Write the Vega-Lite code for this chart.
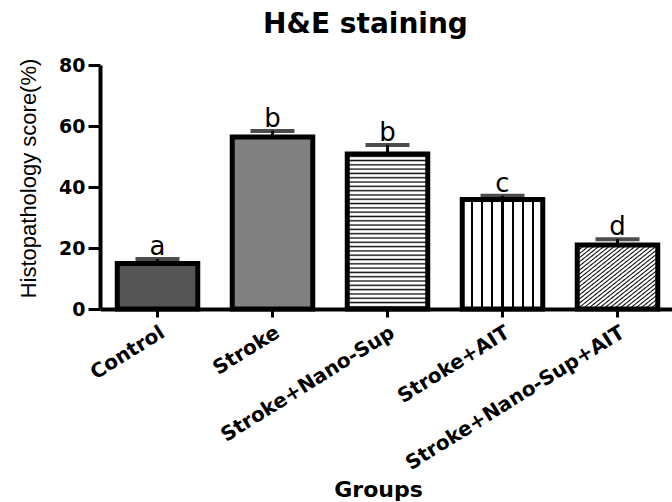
{
  "$schema": "https://vega.github.io/schema/vega-lite/v6.json",
  "width": 575,
  "height": 244,
  "autosize": "none",
  "padding": {"left": 100, "top": 65, "right": 0, "bottom": 193},
  "background": "white",
  "title": {"text": "H&E staining", "font": "DejaVu Sans", "fontSize": 28, "fontWeight": "bold", "color": "black", "offset": 17, "anchor": "middle", "dx": -22},
  "config": {"view": {"stroke": null}, "axis": {"grid": false, "domainColor": "black", "tickColor": "black", "labelColor": "black", "titleColor": "black"}},
  "data": {"values": [
    {"group": "Control", "mean": 14.9, "sem": 1.5, "letter": "a"},
    {"group": "Stroke", "mean": 56.4, "sem": 2.0, "letter": "b"},
    {"group": "Stroke+Nano-Sup", "mean": 50.8, "sem": 3.0, "letter": "b"},
    {"group": "Stroke+AIT", "mean": 35.9, "sem": 1.2, "letter": "c"},
    {"group": "Stroke+Nano-Sup+AIT", "mean": 21.0, "sem": 1.9, "letter": "d"}
  ]},
  "transform": [{"calculate": "datum.mean + datum.sem", "as": "hi"}],
  "encoding": {
    "x": {"field": "group", "type": "nominal", "sort": null,
      "scale": {"paddingInner": 0.3, "paddingOuter": 0.15},
      "axis": {"title": "Groups", "titleFont": "DejaVu Sans", "titleFontSize": 22, "titleFontWeight": "bold", "titleY": 187, "titleX": 278, "titleBaseline": "alphabetic",
        "labelAngle": -32, "labelFont": "DejaVu Sans", "labelFontSize": 20, "labelFontWeight": "bold", "labelPadding": 5, "labelLimit": 0,
        "domainWidth": 4, "tickWidth": 3, "tickSize": 8}}
  },
  "layer": [
    {"mark": {"type": "bar", "stroke": "black", "strokeWidth": 5},
     "encoding": {
       "y": {"field": "mean", "type": "quantitative", "scale": {"domain": [0, 80]},
         "axis": {"title": "Histopathology score(%)", "titleFont": "Liberation Sans", "titleFontSize": 22, "titleFontWeight": "normal", "titleX": -72, "titleY": 113, "titleAlign": "center", "titleBaseline": "middle",
           "values": [0, 20, 40, 60, 80], "labelFont": "DejaVu Sans", "labelFontSize": 19, "labelFontWeight": "bold", "labelPadding": 3,
           "domainWidth": 4, "tickWidth": 3, "tickSize": 12}},
       "fill": {"condition": [
         {"test": "datum.group === 'Control'", "value": "#555555"},
         {"test": "datum.group === 'Stroke'", "value": "#808080"},
         {"test": "datum.group === 'Stroke+Nano-Sup'", "value": {"gradient": "linear", "x1": 0, "y1": 0, "x2": 0, "y2": 1, "stops": [
           {"offset": 0, "color": "#fff"},
           {"offset": 0.0049, "color": "#fff"}, {"offset": 0.0139, "color": "#111"}, {"offset": 0.0229, "color": "#fff"},
           {"offset": 0.0327, "color": "#fff"}, {"offset": 0.0417, "color": "#111"}, {"offset": 0.0507, "color": "#fff"},
           {"offset": 0.0604, "color": "#fff"}, {"offset": 0.0694, "color": "#111"}, {"offset": 0.0784, "color": "#fff"},
           {"offset": 0.0882, "color": "#fff"}, {"offset": 0.0972, "color": "#111"}, {"offset": 0.1062, "color": "#fff"},
           {"offset": 0.116, "color": "#fff"}, {"offset": 0.125, "color": "#111"}, {"offset": 0.134, "color": "#fff"},
           {"offset": 0.1438, "color": "#fff"}, {"offset": 0.1528, "color": "#111"}, {"offset": 0.1618, "color": "#fff"},
           {"offset": 0.1716, "color": "#fff"}, {"offset": 0.1806, "color": "#111"}, {"offset": 0.1896, "color": "#fff"},
           {"offset": 0.1993, "color": "#fff"}, {"offset": 0.2083, "color": "#111"}, {"offset": 0.2173, "color": "#fff"},
           {"offset": 0.2271, "color": "#fff"}, {"offset": 0.2361, "color": "#111"}, {"offset": 0.2451, "color": "#fff"},
           {"offset": 0.2549, "color": "#fff"}, {"offset": 0.2639, "color": "#111"}, {"offset": 0.2729, "color": "#fff"},
           {"offset": 0.2827, "color": "#fff"}, {"offset": 0.2917, "color": "#111"}, {"offset": 0.3007, "color": "#fff"},
           {"offset": 0.3104, "color": "#fff"}, {"offset": 0.3194, "color": "#111"}, {"offset": 0.3284, "color": "#fff"},
           {"offset": 0.3382, "color": "#fff"}, {"offset": 0.3472, "color": "#111"}, {"offset": 0.3562, "color": "#fff"},
           {"offset": 0.366, "color": "#fff"}, {"offset": 0.375, "color": "#111"}, {"offset": 0.384, "color": "#fff"},
           {"offset": 0.3938, "color": "#fff"}, {"offset": 0.4028, "color": "#111"}, {"offset": 0.4118, "color": "#fff"},
           {"offset": 0.4216, "color": "#fff"}, {"offset": 0.4306, "color": "#111"}, {"offset": 0.4396, "color": "#fff"},
           {"offset": 0.4493, "color": "#fff"}, {"offset": 0.4583, "color": "#111"}, {"offset": 0.4673, "color": "#fff"},
           {"offset": 0.4771, "color": "#fff"}, {"offset": 0.4861, "color": "#111"}, {"offset": 0.4951, "color": "#fff"},
           {"offset": 0.5049, "color": "#fff"}, {"offset": 0.5139, "color": "#111"}, {"offset": 0.5229, "color": "#fff"},
           {"offset": 0.5327, "color": "#fff"}, {"offset": 0.5417, "color": "#111"}, {"offset": 0.5507, "color": "#fff"},
           {"offset": 0.5604, "color": "#fff"}, {"offset": 0.5694, "color": "#111"}, {"offset": 0.5784, "color": "#fff"},
           {"offset": 0.5882, "color": "#fff"}, {"offset": 0.5972, "color": "#111"}, {"offset": 0.6062, "color": "#fff"},
           {"offset": 0.616, "color": "#fff"}, {"offset": 0.625, "color": "#111"}, {"offset": 0.634, "color": "#fff"},
           {"offset": 0.6438, "color": "#fff"}, {"offset": 0.6528, "color": "#111"}, {"offset": 0.6618, "color": "#fff"},
           {"offset": 0.6716, "color": "#fff"}, {"offset": 0.6806, "color": "#111"}, {"offset": 0.6896, "color": "#fff"},
           {"offset": 0.6993, "color": "#fff"}, {"offset": 0.7083, "color": "#111"}, {"offset": 0.7173, "color": "#fff"},
           {"offset": 0.7271, "color": "#fff"}, {"offset": 0.7361, "color": "#111"}, {"offset": 0.7451, "color": "#fff"},
           {"offset": 0.7549, "color": "#fff"}, {"offset": 0.7639, "color": "#111"}, {"offset": 0.7729, "color": "#fff"},
           {"offset": 0.7827, "color": "#fff"}, {"offset": 0.7917, "color": "#111"}, {"offset": 0.8007, "color": "#fff"},
           {"offset": 0.8104, "color": "#fff"}, {"offset": 0.8194, "color": "#111"}, {"offset": 0.8284, "color": "#fff"},
           {"offset": 0.8382, "color": "#fff"}, {"offset": 0.8472, "color": "#111"}, {"offset": 0.8562, "color": "#fff"},
           {"offset": 0.866, "color": "#fff"}, {"offset": 0.875, "color": "#111"}, {"offset": 0.884, "color": "#fff"},
           {"offset": 0.8938, "color": "#fff"}, {"offset": 0.9028, "color": "#111"}, {"offset": 0.9118, "color": "#fff"},
           {"offset": 0.9216, "color": "#fff"}, {"offset": 0.9306, "color": "#111"}, {"offset": 0.9396, "color": "#fff"},
           {"offset": 0.9493, "color": "#fff"}, {"offset": 0.9583, "color": "#111"}, {"offset": 0.9673, "color": "#fff"},
           {"offset": 0.9771, "color": "#fff"}, {"offset": 0.9861, "color": "#111"}, {"offset": 0.9951, "color": "#fff"},
           {"offset": 1, "color": "#fff"}]}},
         {"test": "datum.group === 'Stroke+AIT'", "value": {"gradient": "linear", "x1": 0, "y1": 0, "x2": 1, "y2": 0, "stops": [
           {"offset": 0, "color": "#fff"},
           {"offset": 0.112, "color": "#fff"}, {"offset": 0.112, "color": "#000"}, {"offset": 0.138, "color": "#000"}, {"offset": 0.138, "color": "#fff"},
           {"offset": 0.237, "color": "#fff"}, {"offset": 0.237, "color": "#000"}, {"offset": 0.263, "color": "#000"}, {"offset": 0.263, "color": "#fff"},
           {"offset": 0.362, "color": "#fff"}, {"offset": 0.362, "color": "#000"}, {"offset": 0.388, "color": "#000"}, {"offset": 0.388, "color": "#fff"},
           {"offset": 0.487, "color": "#fff"}, {"offset": 0.487, "color": "#000"}, {"offset": 0.513, "color": "#000"}, {"offset": 0.513, "color": "#fff"},
           {"offset": 0.612, "color": "#fff"}, {"offset": 0.612, "color": "#000"}, {"offset": 0.638, "color": "#000"}, {"offset": 0.638, "color": "#fff"},
           {"offset": 0.737, "color": "#fff"}, {"offset": 0.737, "color": "#000"}, {"offset": 0.763, "color": "#000"}, {"offset": 0.763, "color": "#fff"},
           {"offset": 0.862, "color": "#fff"}, {"offset": 0.862, "color": "#000"}, {"offset": 0.888, "color": "#000"}, {"offset": 0.888, "color": "#fff"},
           {"offset": 1, "color": "#fff"}]}},
         {"test": "datum.group === 'Stroke+Nano-Sup+AIT'", "value": {"gradient": "linear", "x1": 0, "y1": 0, "x2": 1, "y2": 1, "stops": [
           {"offset": 0, "color": "#fff"},
           {"offset": 0.0061, "color": "#fff"}, {"offset": 0.0161, "color": "#000"}, {"offset": 0.0261, "color": "#fff"},
           {"offset": 0.0384, "color": "#fff"}, {"offset": 0.0484, "color": "#000"}, {"offset": 0.0584, "color": "#fff"},
           {"offset": 0.0706, "color": "#fff"}, {"offset": 0.0806, "color": "#000"}, {"offset": 0.0906, "color": "#fff"},
           {"offset": 0.1029, "color": "#fff"}, {"offset": 0.1129, "color": "#000"}, {"offset": 0.1229, "color": "#fff"},
           {"offset": 0.1352, "color": "#fff"}, {"offset": 0.1452, "color": "#000"}, {"offset": 0.1552, "color": "#fff"},
           {"offset": 0.1674, "color": "#fff"}, {"offset": 0.1774, "color": "#000"}, {"offset": 0.1874, "color": "#fff"},
           {"offset": 0.1997, "color": "#fff"}, {"offset": 0.2097, "color": "#000"}, {"offset": 0.2197, "color": "#fff"},
           {"offset": 0.2319, "color": "#fff"}, {"offset": 0.2419, "color": "#000"}, {"offset": 0.2519, "color": "#fff"},
           {"offset": 0.2642, "color": "#fff"}, {"offset": 0.2742, "color": "#000"}, {"offset": 0.2842, "color": "#fff"},
           {"offset": 0.2965, "color": "#fff"}, {"offset": 0.3065, "color": "#000"}, {"offset": 0.3165, "color": "#fff"},
           {"offset": 0.3287, "color": "#fff"}, {"offset": 0.3387, "color": "#000"}, {"offset": 0.3487, "color": "#fff"},
           {"offset": 0.361, "color": "#fff"}, {"offset": 0.371, "color": "#000"}, {"offset": 0.381, "color": "#fff"},
           {"offset": 0.3932, "color": "#fff"}, {"offset": 0.4032, "color": "#000"}, {"offset": 0.4132, "color": "#fff"},
           {"offset": 0.4255, "color": "#fff"}, {"offset": 0.4355, "color": "#000"}, {"offset": 0.4455, "color": "#fff"},
           {"offset": 0.4577, "color": "#fff"}, {"offset": 0.4677, "color": "#000"}, {"offset": 0.4777, "color": "#fff"},
           {"offset": 0.49, "color": "#fff"}, {"offset": 0.5, "color": "#000"}, {"offset": 0.51, "color": "#fff"},
           {"offset": 0.5223, "color": "#fff"}, {"offset": 0.5323, "color": "#000"}, {"offset": 0.5423, "color": "#fff"},
           {"offset": 0.5545, "color": "#fff"}, {"offset": 0.5645, "color": "#000"}, {"offset": 0.5745, "color": "#fff"},
           {"offset": 0.5868, "color": "#fff"}, {"offset": 0.5968, "color": "#000"}, {"offset": 0.6068, "color": "#fff"},
           {"offset": 0.619, "color": "#fff"}, {"offset": 0.629, "color": "#000"}, {"offset": 0.639, "color": "#fff"},
           {"offset": 0.6513, "color": "#fff"}, {"offset": 0.6613, "color": "#000"}, {"offset": 0.6713, "color": "#fff"},
           {"offset": 0.6835, "color": "#fff"}, {"offset": 0.6935, "color": "#000"}, {"offset": 0.7035, "color": "#fff"},
           {"offset": 0.7158, "color": "#fff"}, {"offset": 0.7258, "color": "#000"}, {"offset": 0.7358, "color": "#fff"},
           {"offset": 0.7481, "color": "#fff"}, {"offset": 0.7581, "color": "#000"}, {"offset": 0.7681, "color": "#fff"},
           {"offset": 0.7803, "color": "#fff"}, {"offset": 0.7903, "color": "#000"}, {"offset": 0.8003, "color": "#fff"},
           {"offset": 0.8126, "color": "#fff"}, {"offset": 0.8226, "color": "#000"}, {"offset": 0.8326, "color": "#fff"},
           {"offset": 0.8448, "color": "#fff"}, {"offset": 0.8548, "color": "#000"}, {"offset": 0.8648, "color": "#fff"},
           {"offset": 0.8771, "color": "#fff"}, {"offset": 0.8871, "color": "#000"}, {"offset": 0.8971, "color": "#fff"},
           {"offset": 0.9094, "color": "#fff"}, {"offset": 0.9194, "color": "#000"}, {"offset": 0.9294, "color": "#fff"},
           {"offset": 0.9416, "color": "#fff"}, {"offset": 0.9516, "color": "#000"}, {"offset": 0.9616, "color": "#fff"},
           {"offset": 0.9739, "color": "#fff"}, {"offset": 0.9839, "color": "#000"}, {"offset": 0.9939, "color": "#fff"},
           {"offset": 1, "color": "#fff"}]}}
       ], "value": "#999"}
     }},
    {"mark": {"type": "rule", "color": "black", "strokeWidth": 3},
     "encoding": {"y": {"field": "mean", "type": "quantitative"}, "y2": {"field": "hi"}}},
    {"mark": {"type": "tick", "color": "black", "thickness": 4, "size": 44, "orient": "horizontal"},
     "encoding": {"y": {"field": "hi", "type": "quantitative"}}},
    {"mark": {"type": "text", "font": "DejaVu Sans", "fontSize": 26, "color": "black", "baseline": "alphabetic", "dy": -4},
     "encoding": {"y": {"field": "hi", "type": "quantitative"}, "text": {"field": "letter"}}}
  ]
}
